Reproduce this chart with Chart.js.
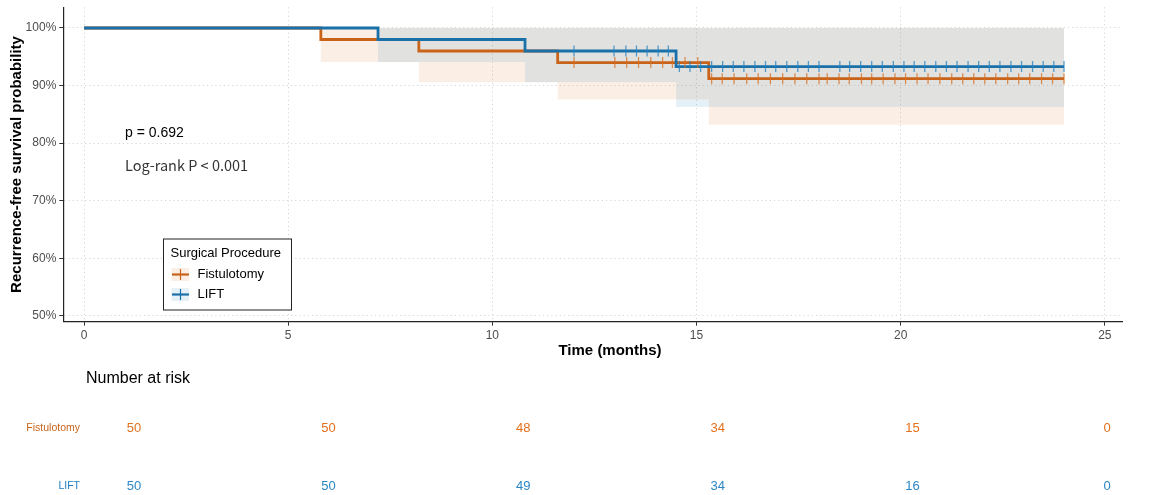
<!DOCTYPE html>
<html>
<head>
<meta charset="utf-8">
<script src="https://cdn.jsdelivr.net/npm/chart.js@4.4.1/dist/chart.umd.min.js"></script>
<style>
  html, body { margin: 0; padding: 0; background: #fff; }
  #wrap { width: 1151px; height: 495px; }
  canvas { display: block; }
</style>
</head>
<body>
<div id="wrap">
  <canvas id="kmChart" width="1151" height="362"></canvas>
  <canvas id="riskChart" width="1151" height="133"></canvas>
</div>
<script>
// Kaplan-Meier steps (time in months, survival in %)
const groups = ['Fistulotomy', 'LIFT'];
const fistTimes = [0, 5.8, 8.2, 11.6, 15.3, 24];
const fistSurv = [100, 98, 96, 94, 91.2, 91.2];
const fistLower = [100, 94.1, 90.6, 87.6, 83.2, 83.2];
const liftTimes = [0, 7.2, 10.8, 14.5, 24];
const liftSurv = [100, 98, 96, 93.3, 93.3];
const liftLower = [100, 94.1, 90.6, 86.3, 86.3];

// censoring times
const fistCensor = [12.0, 13.0, 13.29, 13.58, 13.88, 14.17, 14.41, 14.72, 15.03, 15.37, 15.63, 15.92,
  16.23, 16.51, 16.81, 17.11, 17.41, 17.70, 18.0, 18.2, 18.49, 18.74, 19.04, 19.29, 19.57, 19.86,
  20.12, 20.4, 20.67, 20.96, 21.25, 21.52, 21.79, 22.06, 22.33, 22.62, 22.89, 23.16, 23.45, 23.72, 24.0];
const liftCensor = [12.0, 12.98, 13.27, 13.53, 13.79, 14.06, 14.31, 14.58, 14.84, 15.1, 15.37, 15.64,
  15.9, 16.16, 16.43, 16.69, 16.94, 17.21, 17.48, 17.74, 18.0, 18.51, 18.75, 19.02, 19.29, 19.55, 19.82,
  20.08, 20.33, 20.59, 20.86, 21.12, 21.38, 21.65, 21.91, 22.17, 22.43, 22.7, 22.96, 23.23, 23.49, 23.75, 24.0];

const xTicks = [0, 5, 10, 15, 20, 25];
const yTicks = [50, 60, 70, 80, 90, 100];

// number at risk table
const riskTimes = [0, 5, 10, 15, 20, 25];
const fistRisk = [50, 50, 48, 34, 15, 0];
const liftRisk = [50, 50, 49, 34, 16, 0];

const FONT = "'Liberation Sans', Arial, sans-serif";
const ORANGE = '#c9631a';
const BLUE = '#1a71aa';

function survAt(times, surv, t) {
  let s = surv[0];
  for (let i = 0; i < times.length; i++) {
    if (times[i] <= t) s = surv[i];
  }
  return s;
}
const pts = (xs, ys) => xs.map((x, i) => ({ x: x, y: ys[i] }));

const textPlugin = {
  id: 'kmText',
  afterDraw(chart) {
    const ctx = chart.ctx;
    const area = chart.chartArea;
    ctx.save();
    // axis titles
    ctx.fillStyle = '#000';
    ctx.font = 'bold 15px ' + FONT;
    ctx.textAlign = 'center';
    ctx.textBaseline = 'middle';
    ctx.fillText('Time (months)', 610, 351);
    ctx.save();
    ctx.translate(16.5, (area.top + area.bottom) / 2);
    ctx.rotate(-Math.PI / 2);
    ctx.fillText('Recurrence-free survival probability', 0, 0);
    ctx.restore();

    // p values
    ctx.textAlign = 'left';
    ctx.font = '14px ' + FONT;
    ctx.fillStyle = '#000';
    ctx.fillText('p = 0.692', 125, 133);
    ctx.font = "14.5px 'Noto Sans CJK SC', 'Noto Sans', sans-serif";
    ctx.fillStyle = '#333';
    ctx.fillText('Log-rank P < 0.001', 125, 165);

    // legend
    ctx.fillStyle = '#fff';
    ctx.fillRect(163.5, 239, 128, 71);
    ctx.strokeStyle = '#222';
    ctx.lineWidth = 1;
    ctx.strokeRect(163.5, 239, 128, 71);
    ctx.fillStyle = '#000';
    ctx.font = '13px ' + FONT;
    ctx.fillText('Surgical Procedure', 170.5, 253.5);
    const keys = [
      { name: groups[0], col: ORANGE, fill: 'rgba(213,94,0,0.1)', y: 274.5 },
      { name: groups[1], col: BLUE, fill: 'rgba(0,114,178,0.1)', y: 294.5 }
    ];
    keys.forEach(k => {
      ctx.fillStyle = k.fill;
      ctx.fillRect(171.5, k.y - 6.5, 17.5, 13);
      ctx.strokeStyle = k.col;
      ctx.lineWidth = 2.2;
      ctx.beginPath();
      ctx.moveTo(172, k.y);
      ctx.lineTo(189, k.y);
      ctx.stroke();
      ctx.lineWidth = 1.2;
      ctx.beginPath();
      ctx.moveTo(180.5, k.y - 5.5);
      ctx.lineTo(180.5, k.y + 5.5);
      ctx.stroke();
      ctx.fillStyle = '#000';
      ctx.font = '13px ' + FONT;
      ctx.fillText(k.name, 197.5, k.y);
    });
    ctx.restore();
  }
};

new Chart(document.getElementById('kmChart'), {
  type: 'line',
  data: {
    datasets: [
      {
        label: 'LIFT censor',
        data: liftCensor.map(t => ({ x: t, y: survAt(liftTimes, liftSurv, t) })),
        showLine: false,
        pointStyle: 'line',
        rotation: 90,
        pointRadius: 5.5,
        pointBorderWidth: 1.3,
        pointBorderColor: 'rgba(36,128,192,0.75)'
      },
      {
        label: 'Fistulotomy censor',
        data: fistCensor.map(t => ({ x: t, y: survAt(fistTimes, fistSurv, t) })),
        showLine: false,
        pointStyle: 'line',
        rotation: 90,
        pointRadius: 5.5,
        pointBorderWidth: 1.3,
        pointBorderColor: 'rgba(215,110,30,0.75)'
      },
      {
        label: 'LIFT',
        data: pts(liftTimes, liftSurv),
        stepped: 'before',
        borderColor: BLUE,
        borderWidth: 2.8,
        pointRadius: 0,
        fill: false
      },
      {
        label: 'Fistulotomy',
        data: pts(fistTimes, fistSurv),
        stepped: 'before',
        borderColor: ORANGE,
        borderWidth: 2.8,
        pointRadius: 0,
        fill: false
      },
      {
        label: 'LIFT CI',
        data: pts(liftTimes, liftLower),
        stepped: 'before',
        borderWidth: 0,
        pointRadius: 0,
        fill: { value: 100 },
        backgroundColor: 'rgba(0,114,178,0.1)'
      },
      {
        label: 'Fistulotomy CI',
        data: pts(fistTimes, fistLower),
        stepped: 'before',
        borderWidth: 0,
        pointRadius: 0,
        fill: { value: 100 },
        backgroundColor: 'rgba(213,94,0,0.1)'
      }
    ]
  },
  options: {
    responsive: false,
    animation: false,
    layout: { padding: { top: 7.3, right: 29, left: 0, bottom: 0 } },
    plugins: { legend: { display: false }, tooltip: { enabled: false } },
    scales: {
      x: {
        type: 'linear',
        min: -0.507,
        max: 25.42,
        afterBuildTicks: s => { s.ticks = xTicks.map(v => ({ value: v })); },
        afterFit: s => { s.height = 40.3; s.paddingLeft = 0; s.paddingRight = 0; },
        ticks: { color: '#4d4d4d', font: { family: FONT, size: 12 }, padding: 3, maxRotation: 0, callback: v => String(v) },
        grid: { color: '#d6d6d6', lineWidth: 1, tickColor: '#333', tickLength: 4, tickWidth: 1 },
        border: { color: '#222', width: 1.2, dash: [1.2, 3] }
      },
      y: {
        type: 'linear',
        min: 49.01,
        max: 103.59,
        afterBuildTicks: s => { s.ticks = yTicks.map(v => ({ value: v })); },
        afterFit: s => { s.width = 63.3; s.paddingTop = 0; s.paddingBottom = 0; },
        ticks: { color: '#4d4d4d', font: { family: FONT, size: 12 }, padding: 3, callback: v => v + '%' },
        grid: { color: '#d6d6d6', lineWidth: 1, tickColor: '#333', tickLength: 4, tickWidth: 1 },
        border: { color: '#222', width: 1.2, dash: [1.2, 3] }
      }
    }
  },
  plugins: [textPlugin]
});

const riskPlugin = {
  id: 'riskText',
  afterDraw(chart) {
    const ctx = chart.ctx;
    const cols = [ORANGE, '#1f80c0'];
    const numCols = ['#e2701c', '#2a86c6'];
    ctx.save();
    ctx.textBaseline = 'middle';
    ctx.fillStyle = '#000';
    ctx.font = '16px ' + FONT;
    ctx.textAlign = 'left';
    ctx.fillText('Number at risk', 86, 17);
    chart.data.datasets.forEach((ds, i) => {
      const meta = chart.getDatasetMeta(i);
      ctx.textAlign = 'right';
      ctx.font = '10.5px ' + FONT;
      ctx.fillStyle = cols[i];
      ctx.fillText(ds.label, 80, meta.data[0].y);
      ctx.textAlign = 'center';
      ctx.font = '13px ' + FONT;
      ctx.fillStyle = numCols[i];
      meta.data.forEach((el, j) => {
        ctx.fillText(String(ds.data[j].n), el.x, el.y);
      });
    });
    ctx.restore();
  }
};

new Chart(document.getElementById('riskChart'), {
  type: 'scatter',
  data: {
    datasets: [
      { label: groups[0], data: riskTimes.map((t, i) => ({ x: t, y: 1, n: fistRisk[i] })), pointRadius: 0 },
      { label: groups[1], data: riskTimes.map((t, i) => ({ x: t, y: 2, n: liftRisk[i] })), pointRadius: 0 }
    ]
  },
  options: {
    responsive: false,
    animation: false,
    layout: { padding: { left: 134, right: 44, top: 8, bottom: 9 } },
    plugins: { legend: { display: false }, tooltip: { enabled: false } },
    scales: {
      x: { type: 'linear', min: 0, max: 25, display: false },
      y: { type: 'linear', min: 0, max: 2, reverse: true, display: false }
    }
  },
  plugins: [riskPlugin]
});
</script>
</body>
</html>
